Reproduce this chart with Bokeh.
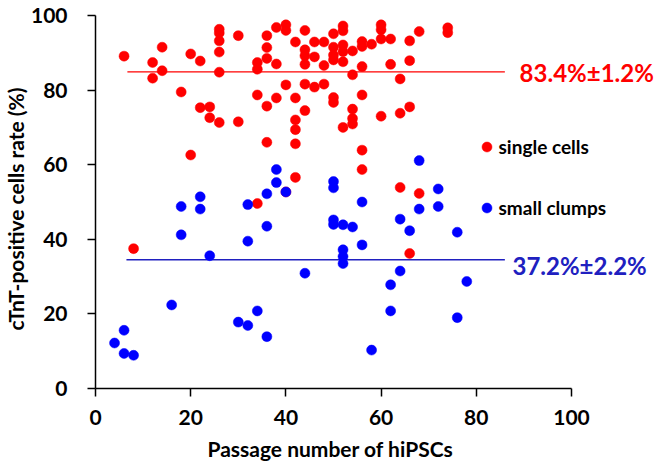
import math
from bokeh.plotting import figure
from bokeh.models import Range1d, Label, Legend, LegendItem, FixedTicker, Title
from bokeh.embed import file_html
from bokeh.resources import INLINE

# ---- data ----
single_x = [6, 12, 12, 14, 14, 18, 20, 20, 22, 22, 24, 24,
            26, 26, 26, 26, 26, 26, 30, 30, 34, 34, 34, 34,
            36, 36, 36, 36, 36, 38, 38, 38, 40, 40, 40, 40,
            42, 42, 42, 42, 42, 42, 44, 44, 44, 44, 44, 44,
            46, 46, 46, 48, 48, 48, 50, 50, 50, 50, 50, 50,
            52, 52, 52, 52, 52, 52, 54, 54, 54, 54, 54,
            56, 56, 56, 56, 56, 56, 58, 60, 60, 60, 60, 62, 62,
            64, 64, 64, 66, 66, 66, 66, 68, 68, 74, 74, 8]
single_y = [89.1, 87.4, 83.2, 91.5, 85.2, 79.5, 89.7, 62.6, 87.8, 75.3, 75.5, 72.6,
            96.3, 95.3, 93.2, 90.2, 84.8, 71.3, 94.6, 71.5, 87.4, 85.6, 78.7, 49.6,
            94.6, 91.4, 88.5, 75.7, 66.0, 96.8, 87.0, 77.9, 97.5, 96.0, 81.4, 52.7,
            92.9, 77.9, 72.0, 69.4, 65.6, 56.6, 96.0, 90.8, 89.2, 86.9, 81.6, 74.5,
            92.9, 88.9, 80.8, 92.9, 86.6, 81.6, 95.1, 91.5, 89.4, 88.1, 78.0, 76.7,
            97.2, 95.9, 92.1, 90.3, 87.6, 70.0, 90.5, 84.1, 74.9, 72.4, 70.9,
            93.0, 91.7, 86.3, 78.7, 63.9, 58.7, 92.3, 97.5, 96.2, 93.7, 73.0, 93.7, 86.9,
            83.0, 73.8, 53.9, 93.2, 87.9, 75.5, 36.2, 95.7, 52.3, 96.7, 95.4, 37.5]

clump_x = [4, 6, 6, 8, 16, 18, 18, 22, 22, 24, 30, 32, 32, 32, 34,
           36, 36, 36, 38, 38, 40, 44, 50, 50, 50, 50, 52, 52, 52, 52,
           54, 56, 56, 58, 62, 62, 64, 64, 66, 68, 68, 72, 72, 76, 76, 78]
clump_y = [12.2, 15.6, 9.4, 8.9, 22.4, 48.8, 41.2, 51.4, 48.1, 35.6, 17.8, 49.3, 39.5, 16.9, 20.8,
           52.2, 43.5, 13.9, 58.7, 55.2, 52.7, 30.9, 55.5, 53.8, 45.2, 44.0, 43.9, 37.2, 35.4, 33.5,
           43.3, 50.0, 38.5, 10.3, 27.8, 20.8, 45.4, 31.5, 42.3, 61.1, 48.1, 53.5, 48.8, 41.9, 19.0, 28.7]

single_mean_x = [6.7, 86.0]
single_mean_y = [84.9, 84.9]
clump_mean_x = [6.5, 86.0]
clump_mean_y = [34.5, 34.5]
single_mean_text = "83.4%±1.2%"
clump_mean_text = "37.2%±2.2%"

ticks = [0, 20, 40, 60, 80, 100]
series_names = ["single cells", "small clumps"]
x_title = "Passage number of hiPSCs"
y_title = "cTnT-positive cells rate (%)"

RED = "#ff0000"
BLUE = "#0000ff"
DBLUE = "#2020c0"
FONT = "Lato"

W, H = 668, 471
LEFT, TOP, BOTTOM = 95, 15, 83
px_per_unit = 4.76
x_end = (W - LEFT) / px_per_unit  # frame extends to the right edge so labels are not clipped

p = figure(width=W, height=H, output_backend="svg", toolbar_location=None,
           x_range=Range1d(0, x_end), y_range=Range1d(0, 100))
p.min_border_left = LEFT
p.min_border_right = 0
p.min_border_top = TOP
p.min_border_bottom = BOTTOM
p.outline_line_color = None
p.xgrid.visible = False
p.ygrid.visible = False
p.background_fill_color = "white"
p.border_fill_color = "white"

for ax in (p.xaxis[0], p.yaxis[0]):
    ax.ticker = FixedTicker(ticks=ticks)
    ax.bounds = (0, 100)
    ax.minor_tick_line_color = None
    ax.major_tick_in = 0
    ax.major_tick_out = 8
    ax.axis_line_width = 1.5
    ax.major_tick_line_width = 1.5
    ax.axis_line_color = "black"
    ax.major_tick_line_color = "black"
    ax.major_label_text_font = FONT
    ax.major_label_text_font_style = "bold"
    ax.major_label_text_font_size = "21px"
    ax.major_label_text_color = "black"

p.yaxis.major_label_standoff = 20
p.xaxis.major_label_standoff = 13

xt = Title(text=x_title, align="left", offset=112, standoff=12,
           text_font=FONT, text_font_style="bold", text_font_size="21px", text_color="black")
p.add_layout(xt, "below")
yt = Title(text=y_title, align="left", offset=58, standoff=0,
           text_font=FONT, text_font_style="bold", text_font_size="21px", text_color="black")
p.add_layout(yt, "left")

# mean lines
p.line(single_mean_x, single_mean_y, line_color=RED, line_width=1.3)
p.line(clump_mean_x, clump_mean_y, line_color=DBLUE, line_width=1.5)

r_single = p.scatter(single_x, single_y, size=10, marker="circle",
                     fill_color=RED, line_color=RED, line_width=0.5)
r_clump = p.scatter(clump_x, clump_y, size=10, marker="circle",
                    fill_color=BLUE, line_color=BLUE, line_width=0.5)

legend = Legend(items=[LegendItem(label=series_names[0], renderers=[r_single]),
                       LegendItem(label=series_names[1], renderers=[r_clump])],
                location=(378.5, 168), orientation="vertical")
legend.glyph_width = 25
legend.glyph_height = 25
legend.label_height = 25
legend.spacing = 36
legend.padding = 0
legend.margin = 0
legend.label_standoff = 0
legend.border_line_color = None
legend.background_fill_alpha = 0
legend.label_text_font = FONT
legend.label_text_font_style = "bold"
legend.label_text_font_size = "19px"
legend.label_text_color = "black"
legend.label_text_baseline = "middle"
p.add_layout(legend, "center")

lab1 = Label(x=89.1, y=84.8, text=single_mean_text, text_align="left", text_baseline="middle",
             text_font=FONT, text_font_style="bold", text_font_size="24px", text_color=RED)
lab2 = Label(x=87.6, y=32.9, text=clump_mean_text, text_align="left", text_baseline="middle",
             text_font=FONT, text_font_style="bold", text_font_size="24px", text_color=DBLUE)
p.add_layout(lab1)
p.add_layout(lab2)

open("out.html", "w").write(file_html(p, INLINE))
